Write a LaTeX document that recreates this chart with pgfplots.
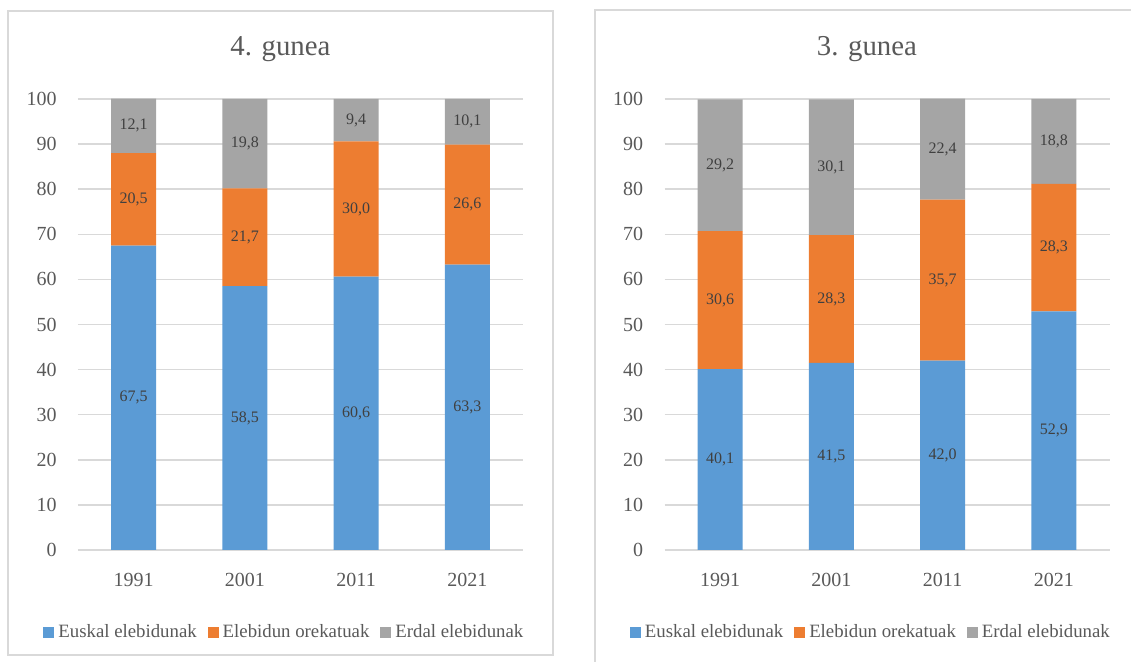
\documentclass[border=0pt]{standalone}
\usepackage{pgfplots}
\pgfplotsset{compat=1.18}
\usepackage{fontspec}
\setmainfont{Liberation Serif}
\definecolor{cBlue}{HTML}{5B9BD5}
\definecolor{cOrange}{HTML}{ED7D31}
\definecolor{cGray}{HTML}{A5A5A5}
\definecolor{txt}{HTML}{595959}
\definecolor{lbl}{HTML}{404040}
\definecolor{gridc}{HTML}{D9D9D9}
\pgfplotsset{
 panel/.style={
  scale only axis, width=222.5pt, height=225.5pt,
  xmin=-0.5, xmax=3.5, ymin=0, ymax=100,
  xtick={0,1,2,3}, xticklabels={1991,2001,2011,2021},
  ytick={0,10,...,100},
  axis line style={draw=none},
  major tick length=0pt,
  ymajorgrids, grid style={gridc, line width=0.75pt},
  tick label style={font=\fontsize{10}{12}\selectfont, text=txt},
  yticklabel style={anchor=east, inner sep=0pt, xshift=-10.5pt},
  xticklabel style={anchor=base, inner sep=0pt, yshift=-18.5pt},
  /pgf/number format/assume math mode=true,
  ybar stacked, bar width=22.5pt,
  legend columns=3,
  legend style={draw=none, fill=none, font=\fontsize{9.4}{11}\selectfont, text=txt,
    at={(0.466,-0.182)}, anchor=center,
    /tikz/every even column/.append style={column sep=3.5pt}},
  legend image code/.code={\fill[##1] (0pt,-2.75pt) rectangle (5.5pt,2.75pt);},
  title style={font=\fontsize{14.4}{17}\selectfont, text=txt, anchor=base, at={(0.455,1)}, yshift=15.5pt},
 },
 labels/.style={
  scale only axis, width=222.5pt, height=225.5pt,
  xmin=-0.5, xmax=3.5, ymin=0, ymax=100, hide axis,
 },
 lblplot/.style={draw=none, mark=none, nodes near coords, point meta=explicit symbolic,
  nodes near coords style={anchor=center, font=\fontsize{8}{10}\selectfont, text=lbl}},
}
\begin{document}
\begin{tikzpicture}
\useasboundingbox (0,0) rectangle (565.5pt,331pt);
\draw[gridc, line width=0.75pt] (4pt,3.5pt) rectangle (276.5pt,325.5pt);
\draw[gridc, line width=0.75pt] (297.5pt,-5pt) rectangle (580pt,326pt);

% ---- Left panel: 4. gunea
\begin{axis}[panel, at={(39pt,56pt)}, anchor=south west, title={4. gunea}]
\addplot[fill=cBlue, draw=none] coordinates {(0,67.5) (1,58.5) (2,60.6) (3,63.3)};
\addlegendentry{Euskal elebidunak}
\addplot[fill=cOrange, draw=none] coordinates {(0,20.5) (1,21.7) (2,30.0) (3,26.6)};
\addlegendentry{Elebidun orekatuak}
\addplot[fill=cGray, draw=none] coordinates {(0,12.1) (1,19.8) (2,9.4) (3,10.1)};
\addlegendentry{Erdal elebidunak}
\end{axis}
\begin{axis}[labels, at={(39pt,56pt)}, anchor=south west]
\addplot[lblplot] coordinates {(0,33.75) [67,5] (1,29.25) [58,5] (2,30.3) [60,6] (3,31.65) [63,3]};
\addplot[lblplot] coordinates {(0,77.75) [20,5] (1,69.35) [21,7] (2,75.6) [30,0] (3,76.6) [26,6]};
\addplot[lblplot] coordinates {(0,94.05) [12,1] (1,90.1) [19,8] (2,95.3) [9,4] (3,94.95) [10,1]};
\end{axis}

% ---- Right panel: 3. gunea
\begin{axis}[panel, at={(332.25pt,56pt)}, anchor=south west, title={3. gunea}]
\addplot[fill=cBlue, draw=none] coordinates {(0,40.1) (1,41.5) (2,42.0) (3,52.9)};
\addlegendentry{Euskal elebidunak}
\addplot[fill=cOrange, draw=none] coordinates {(0,30.6) (1,28.3) (2,35.7) (3,28.3)};
\addlegendentry{Elebidun orekatuak}
\addplot[fill=cGray, draw=none] coordinates {(0,29.2) (1,30.1) (2,22.4) (3,18.8)};
\addlegendentry{Erdal elebidunak}
\end{axis}
\begin{axis}[labels, at={(332.25pt,56pt)}, anchor=south west]
\addplot[lblplot] coordinates {(0,20.05) [40,1] (1,20.75) [41,5] (2,21.0) [42,0] (3,26.45) [52,9]};
\addplot[lblplot] coordinates {(0,55.4) [30,6] (1,55.65) [28,3] (2,59.85) [35,7] (3,67.05) [28,3]};
\addplot[lblplot] coordinates {(0,85.3) [29,2] (1,84.85) [30,1] (2,88.9) [22,4] (3,90.6) [18,8]};
\end{axis}
\end{tikzpicture}
\end{document}
